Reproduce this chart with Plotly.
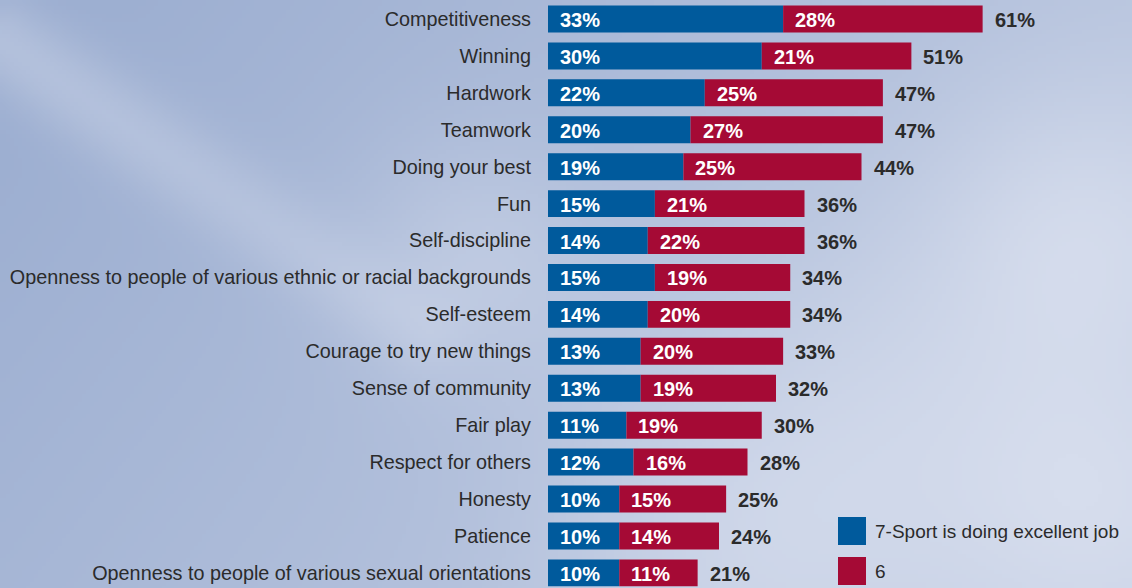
import base64
import struct
import zlib

import numpy as np
import plotly.graph_objects as go

categories = ["Competitiveness", "Winning", "Hardwork", "Teamwork", "Doing your best", "Fun",
              "Self-discipline", "Openness to people of various ethnic or racial backgrounds",
              "Self-esteem", "Courage to try new things", "Sense of community", "Fair play",
              "Respect for others", "Honesty", "Patience",
              "Openness to people of various sexual orientations"]
excellent = [33, 30, 22, 20, 19, 15, 14, 15, 14, 13, 13, 11, 12, 10, 10, 10]
six = [28, 21, 25, 27, 25, 21, 22, 19, 20, 20, 19, 19, 16, 15, 14, 11]
totals = [61, 51, 47, 47, 44, 36, 36, 34, 34, 33, 32, 30, 28, 25, 24, 21]
series_names = ["7-Sport is doing excellent job", "6"]

BLUE = "#005a9c"
RED = "#a50a35"
FONT = "Liberation Sans, Arial, sans-serif"
DARK = "#2b2b2b"

W, H = 1132, 588
ML, MR = 548, 14
PW = W - ML - MR


# ---- sky-like background (decorative gradient image) ----
def sky_png(w=283, h=147):
    ys, xs = np.mgrid[0:h, 0:w].astype(float)
    X = xs / (w - 1) * W
    Y = ys / (h - 1) * H
    s = 0.12 + 0.45 * (X / W) + 0.18 * (Y / H)
    # diagonal cloud streak top-left
    p0 = np.array([0.0, 40.0]); p1 = np.array([420.0, 330.0])
    d = p1 - p0
    tt = np.clip(((X - p0[0]) * d[0] + (Y - p0[1]) * d[1]) / (d @ d), 0, 1)
    dist = np.hypot(X - (p0[0] + tt * d[0]), Y - (p0[1] + tt * d[1]))
    s += 0.35 * np.exp(-(dist / 45) ** 2) * (1 - 0.6 * tt)
    # soft light patches
    for cx, cy, r, a in [(470, 260, 90, 0.25), (1080, 230, 110, 0.3), (860, 440, 160, 0.25),
                         (700, 560, 120, 0.15), (1100, 500, 100, 0.2)]:
        s += a * np.exp(-((X - cx) ** 2 + (Y - cy) ** 2) / (2 * r * r))
    s = np.clip(s, 0, 1)
    dark = np.array([146, 166, 204.0]); light = np.array([214, 221, 237.0])
    img = (dark + (light - dark) * s[..., None]).astype(np.uint8)
    raw = b"".join(b"\x00" + img[r].tobytes() for r in range(h))

    def chunk(t, data):
        c = struct.pack(">I", len(data)) + t + data
        return c + struct.pack(">I", zlib.crc32(t + data) & 0xffffffff)

    png = (b"\x89PNG\r\n\x1a\n" + chunk(b"IHDR", struct.pack(">IIBBBBB", w, h, 8, 2, 0, 0, 0))
           + chunk(b"IDAT", zlib.compress(raw, 9)) + chunk(b"IEND", b""))
    return "data:image/png;base64," + base64.b64encode(png).decode()


ypos = list(range(len(categories)))

fig = go.Figure()
fig.add_trace(go.Bar(y=ypos, x=excellent, orientation="h", marker_color=BLUE,
                     marker_line_width=0, name=series_names[0], showlegend=False,
                     hoverinfo="skip"))
fig.add_trace(go.Bar(y=ypos, x=six, base=excellent, orientation="h", marker_color=RED,
                     marker_line_width=0, name=series_names[1], showlegend=False,
                     hoverinfo="skip"))

ann = []
lab_font_w = dict(color="white", size=20, family=FONT, weight="bold")
lab_font_d = dict(color=DARK, size=20, family=FONT, weight="bold")
for i in ypos:
    ann.append(dict(x=0, y=i, text=f"{excellent[i]}%", xanchor="left", xshift=10,
                    showarrow=False, font=lab_font_w, yshift=-1))
    ann.append(dict(x=excellent[i], y=i, text=f"{six[i]}%", xanchor="left", xshift=10,
                    showarrow=False, font=lab_font_w, yshift=-1))
    ann.append(dict(x=totals[i], y=i, text=f"{totals[i]}%", xanchor="left", xshift=10,
                    showarrow=False, font=lab_font_d, yshift=-1))

# legend
shapes = []
leg_y = [(H - 531) / H, (H - 571) / H]
for k, (name, col) in enumerate(zip(series_names, [BLUE, RED])):
    shapes.append(dict(type="rect", xref="paper", yref="paper",
                       x0=(838 - ML) / PW, x1=(866 - ML) / PW,
                       y0=leg_y[k] - 14 / H, y1=leg_y[k] + 14 / H,
                       fillcolor=col, line_width=0))
    ann.append(dict(xref="paper", yref="paper", x=(873 - ML) / PW, y=leg_y[k], text=name,
                    xanchor="left", yanchor="middle", showarrow=False,
                    font=dict(color=DARK, size=19, family=FONT)))

fig.update_layout(
    width=W, height=H,
    margin=dict(l=ML, r=MR, t=0, b=0),
    paper_bgcolor="#a8b9d8", plot_bgcolor="rgba(0,0,0,0)",
    barmode="overlay", bargap=0.27,
    annotations=ann, shapes=shapes,
    font=dict(family=FONT, color=DARK),
    images=[dict(source=sky_png(), xref="paper", yref="paper",
                 x=-ML / PW, y=1, sizex=W / PW, sizey=1,
                 xanchor="left", yanchor="top", sizing="stretch", layer="below")],
)
fig.update_xaxes(range=[0, 80], visible=False)
fig.update_yaxes(range=[15.41, -0.514], tickvals=ypos, ticktext=categories,
                 showgrid=False, zeroline=False, showline=False, ticks="",
                 automargin=False,
                 ticklabelstandoff=16, tickfont=dict(size=19.8, family=FONT, color=DARK))

fig.write_html("out.html", config={"displayModeBar": False},
               post_script="document.body.style.margin='0';document.body.style.overflow='hidden';")
